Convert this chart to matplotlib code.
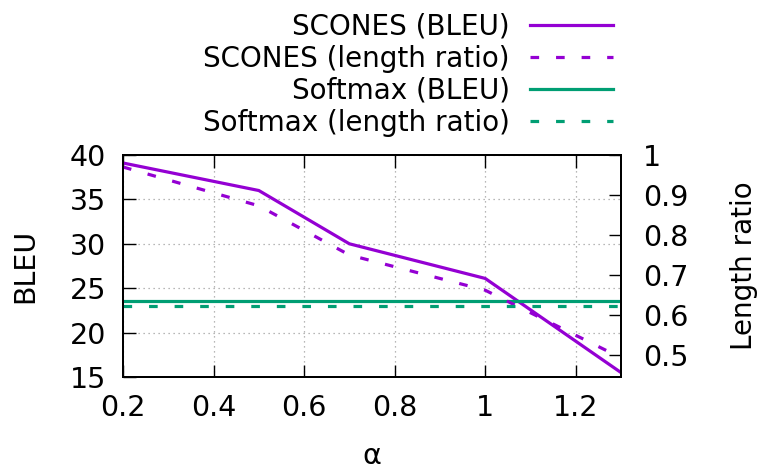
import matplotlib
matplotlib.use('Agg')
import matplotlib.pyplot as plt

alpha = [0.2, 0.5, 0.7, 1.0, 1.3]
scones_bleu = [39.1, 36.0, 30.0, 26.1, 15.5]
scones_ratio = [0.97, 0.873, 0.75, 0.662, 0.493]
softmax_bleu = 23.55
softmax_ratio = 0.622

purple = '#9400d3'
green = '#009e73'

plt.rcParams['font.family'] = 'DejaVu Sans'
plt.rcParams['font.size'] = 20.5

fig = plt.figure(figsize=(7.61, 4.71), dpi=100)
ax = fig.add_axes([123/761, 1 - 377/471, 498/761, 222/471])
ax2 = ax.twinx()

dash = (0, (2.7, 5.3))
l1, = ax.plot(alpha, scones_bleu, color=purple, lw=2.3, label='SCONES (BLEU)')
l2, = ax2.plot(alpha, scones_ratio, color=purple, lw=2.3, ls=dash,
               label='SCONES (length ratio)')
l3 = ax.axhline(softmax_bleu, color=green, lw=2.3, label='Softmax (BLEU)')
l4 = ax2.axhline(softmax_ratio, color=green, lw=2.3, ls=dash,
                 label='Softmax (length ratio)')

ax.set_xlim(0.2, 1.3)
ax.set_ylim(15, 40)
ax2.set_ylim(0.445, 1.0)
ax.set_xticks([0.2, 0.4, 0.6, 0.8, 1.0, 1.2])
ax.set_xticklabels(['0.2', '0.4', '0.6', '0.8', '1', '1.2'])
ax.set_yticks([15, 20, 25, 30, 35, 40])
ax2.set_yticks([0.5, 0.6, 0.7, 0.8, 0.9, 1.0])
ax2.set_yticklabels(['0.5', '0.6', '0.7', '0.8', '0.9', '1'])

ax.grid(True, color='#a0a0a0', ls=(0, (1, 3)), lw=0.9)
ax.tick_params(axis='x', direction='in', top=True, length=9, width=1, pad=12)
ax.tick_params(axis='y', direction='in', right=False, length=9, width=1, pad=12)
ax2.tick_params(axis='y', direction='in', length=9, width=1, pad=16)
for a in (ax, ax2):
    for s in a.spines.values():
        s.set_linewidth(1.4)

ax.set_xlabel('α', labelpad=15)
ax.set_ylabel('BLEU', labelpad=22)
ax2.set_ylabel('Length ratio', labelpad=30, fontsize=20)

fig.legend(handles=[l1, l2, l3, l4], loc='upper right',
           bbox_to_anchor=(613/761, 1 - 12.5/471), markerfirst=False, frameon=False,
           handlelength=3.0, handletextpad=0.72, labelspacing=0.15,
           borderaxespad=0.0, borderpad=0.0, fontsize=20)

plt.savefig('out.png', dpi=100)
